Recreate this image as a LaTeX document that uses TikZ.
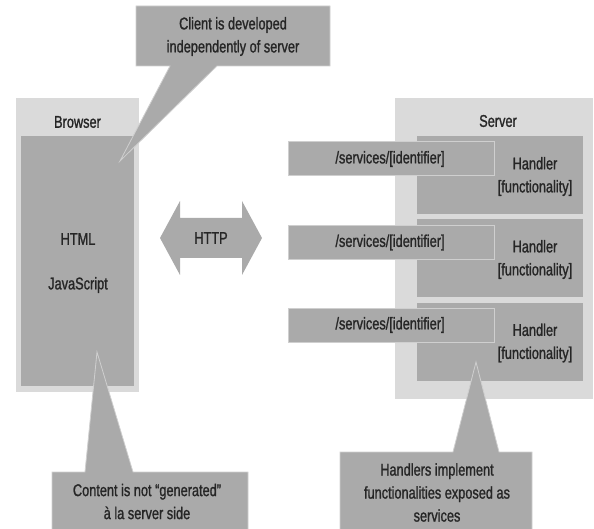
\documentclass[tikz,border=0pt]{standalone}
\usepackage{fontspec}
\setmainfont[FakeStretch=0.75,FakeBold=1.2]{Liberation Sans}
\definecolor{dgray}{HTML}{AAAAAA}
\definecolor{lgray}{HTML}{DADADA}
\definecolor{txt}{HTML}{262626}
\definecolor{edge}{HTML}{CFCFCF}
\tikzset{
  lbl/.style={text=txt, font=\fontsize{17}{23}\selectfont, align=center, inner sep=0pt},
  outerbox/.style={fill=lgray, draw=none, inner sep=0pt, outer sep=0pt},
  innerbox/.style={fill=dgray, draw=none, inner sep=0pt, outer sep=0pt},
  svcbox/.style={fill=dgray, draw=edge, line width=1pt, inner sep=0pt, outer sep=0pt},
  callout/.style={fill=dgray, draw=edge, line width=0.8pt},
  httparrow/.style={fill=dgray, draw=none}
}
\begin{document}
\begin{tikzpicture}[x=1pt,y=-1pt]
\useasboundingbox (0,0) rectangle (594,529);
% Browser
\node[outerbox, minimum width=123pt, minimum height=294pt] (browser) at (77.5,245) {};
\node[innerbox, minimum width=113pt, minimum height=250pt] (client) at (77.5,261) {};
\node[lbl] (browserlbl) at (77.5,122) {Browser};
\node[lbl] (html) at (78,239) {HTML};
\node[lbl] (js) at (78,285) {JavaScript};
% Server
\node[outerbox, minimum width=198pt, minimum height=301pt] (server) at (494,248.5) {};
\node[lbl] (serverlbl) at (498,121) {Server};
\foreach \i/\y in {1/175,2/258,3/341.5}{
  \node[innerbox, minimum width=166pt, minimum height=78pt] (h\i) at (500,\y) {};
  \node[lbl] (ht\i) at ([shift={(35,1.5)}]h\i.center) {Handler\\{}[functionality]};
}
\foreach \i/\y in {1/159,2/242.5,3/325}{
  \node[svcbox, minimum width=206pt, minimum height=34pt] (s\i) at (391,\y) {};
  \node[lbl] (st\i) at ([shift={(-1,0)}]s\i.center) {/services/[identifier]};
}
% HTTP arrow
\fill[httparrow] (160,238) -- (180,201) -- (180,218) -- (242,218) -- (242,201) -- (262,238)
  -- (242,275) -- (242,258) -- (180,258) -- (180,275) -- cycle;
\node[lbl] (http) at (211,238) {HTTP};
% Callouts
\draw[callout] (136,6) -- (330,6) -- (330,66) -- (217,66) -- (120,161) -- (170,66) -- (136,66) -- cycle;
\node[lbl] (c1) at (233,36.5) {Client is developed\\independently of server};
\draw[callout] (52,472) -- (85,472) -- (97,352) -- (133,472) -- (248,472) -- (248,530) -- (52,530) -- cycle;
\node[lbl] (c2) at (147,501.5) {Content is not “generated”\\à la server side};
\draw[callout] (340,452) -- (453,452) -- (476,362) -- (499,452) -- (532,452) -- (532,530) -- (340,530) -- cycle;
\node[lbl] (c3) at (437,492.5) {Handlers implement\\functionalities exposed as\\services};
\end{tikzpicture}
\end{document}
